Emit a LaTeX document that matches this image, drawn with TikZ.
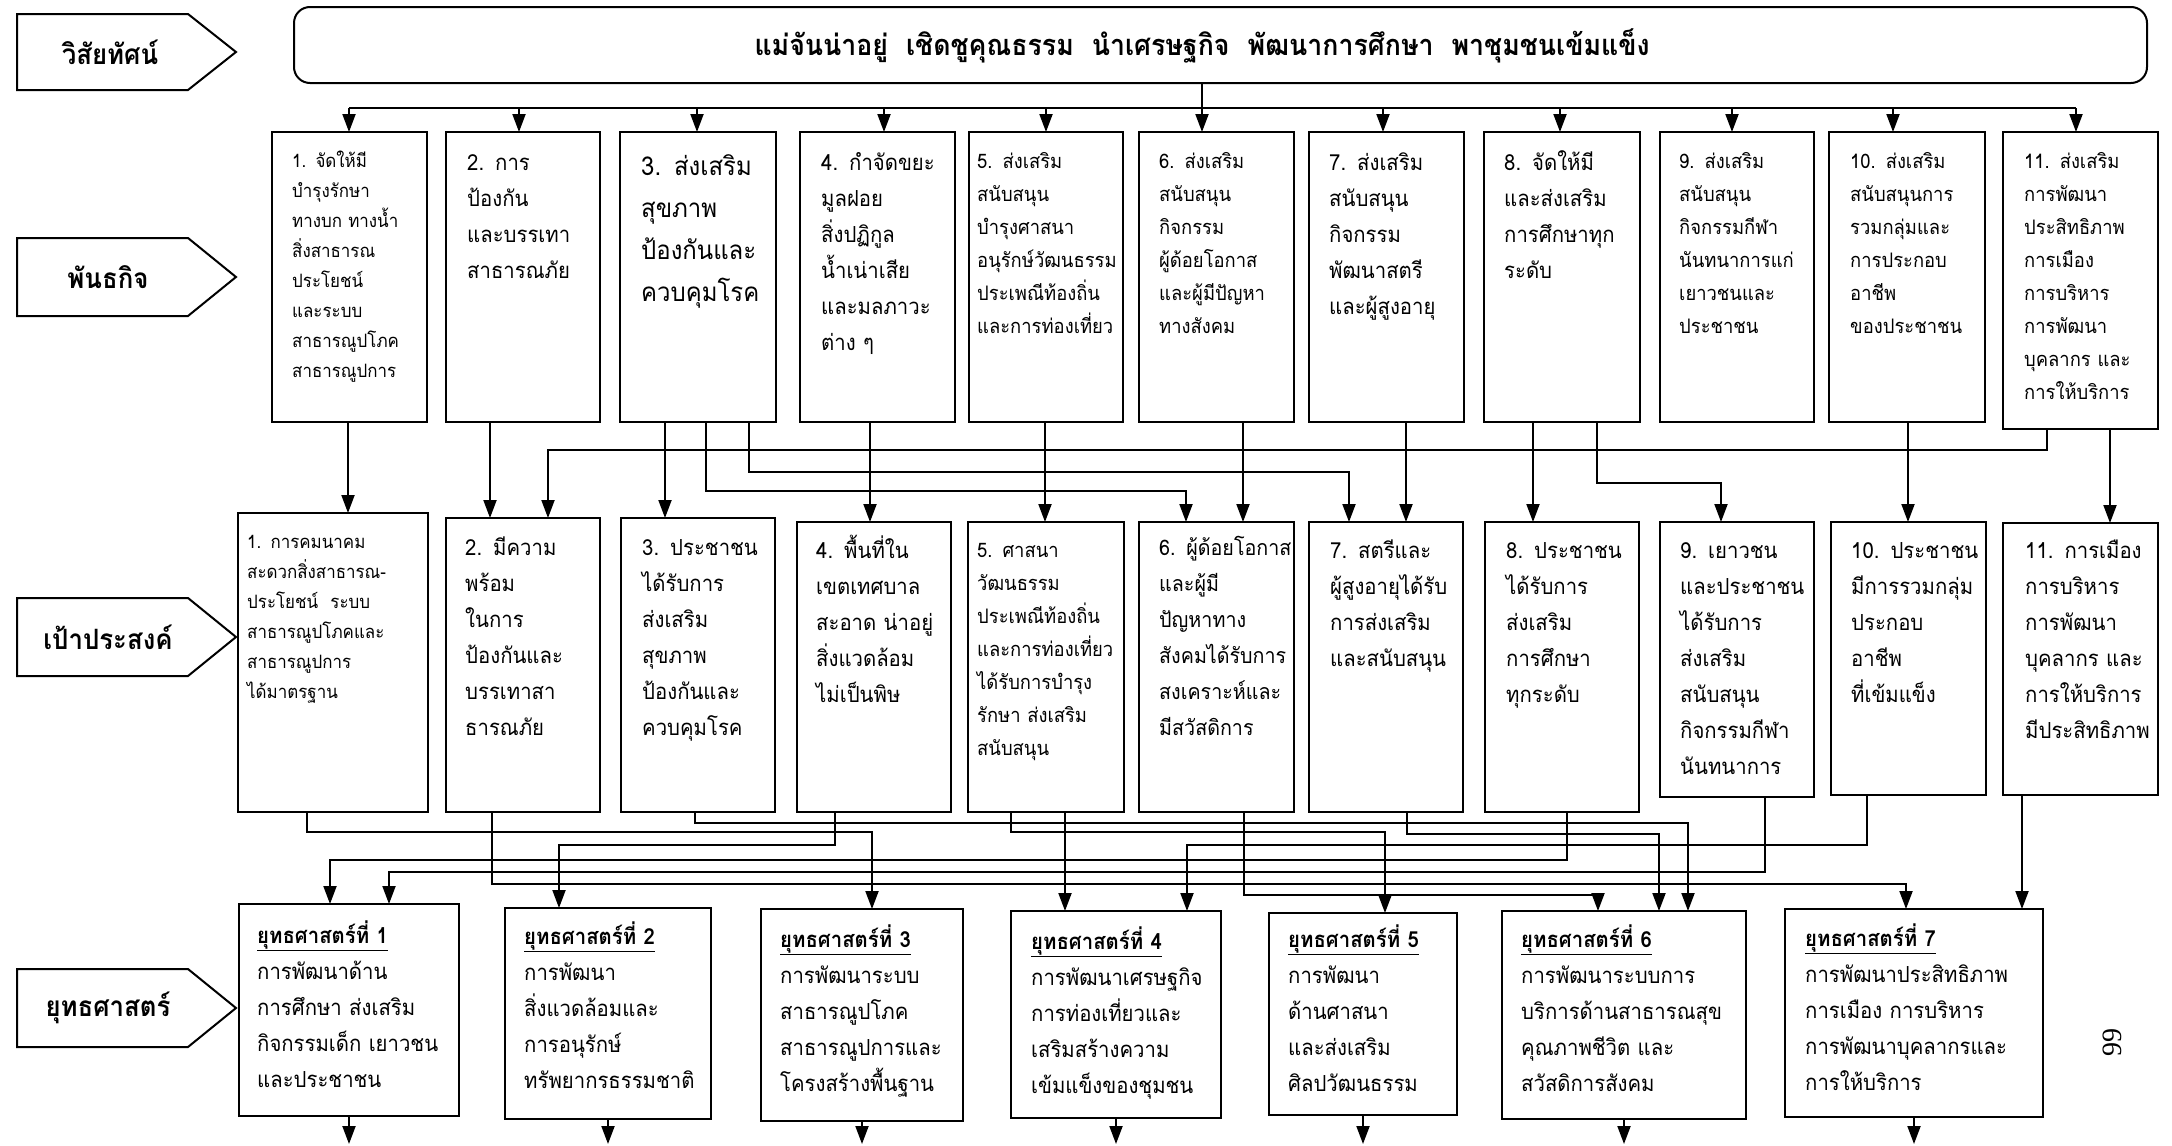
\documentclass[tikz,border=0pt]{standalone}
\usepackage{fontspec}
\setmainfont[Script=Thai,FakeStretch=0.92]{Loma}
\newfontfamily\pnfont{Liberation Serif}
\usetikzlibrary{arrows.meta}
\newcommand\ThS{\fontsize{18.4}{30}\selectfont}
\newcommand\ThA{\fontsize{20}{33}\selectfont}
\newcommand\ThB{\fontsize{22.1}{36}\selectfont}
\newcommand\ThBs{\fontsize{21.4}{36}\selectfont}
\newcommand\ThC{\fontsize{26}{42}\selectfont}
\newcommand\ThL{\fontsize{28}{30}\selectfont\bfseries}
\newcommand\ThV{\fontsize{29}{32}\selectfont\bfseries}
\newcommand\sttl[1]{\underline{\textbf{#1}}}
\tikzset{
  bx/.style={draw, line width=2.6pt, inner sep=0pt, outer sep=0pt, anchor=north west},
  tx/.style={anchor=base west, align=left, inner sep=0pt, text width=240pt},
  ln/.style={line width=2pt},
  arr/.style={line width=2pt, -{Triangle[length=18pt,width=13pt]}},
  lb/.style={draw, line width=2pt, line join=miter},
}
\begin{document}
\begin{tikzpicture}[x=1pt,y=-1pt]
\fill[white] (0,0) rectangle (2172,1146);
\useasboundingbox (0,0) rectangle (2172,1146);

% ---- left labels
\draw[lb] (17,14) -- (188,14) -- (236,52) -- (188,90) -- (17,90) -- cycle;
\node[font=\ThL] (l1) at (110,52) {วิสัยทัศน์};
\draw[lb] (17,238) -- (188,238) -- (236,277) -- (188,316) -- (17,316) -- cycle;
\node[font=\ThL] (l2) at (108,277) {พันธกิจ};
\draw[lb] (17,598) -- (188,598) -- (236,637) -- (188,676) -- (17,676) -- cycle;
\node[font=\ThL] (l3) at (108,637) {เป้าประสงค์};
\draw[lb] (17,969) -- (188,969) -- (236,1008) -- (188,1047) -- (17,1047) -- cycle;
\node[font=\ThL] (l4) at (108,1008) {ยุทธศาสตร์};

% ---- vision
\node[draw, line width=2pt, rounded corners=16pt, inner sep=0pt, outer sep=0pt, anchor=north west,
      minimum width=1853pt, minimum height=76pt] (vis) at (294,7) {};
\node[font=\ThV] (vist) at (1202,46) {แม่จันน่าอยู่~~เชิดชูคุณธรรม~~นำเศรษฐกิจ~~พัฒนาการศึกษา~~พาชุมชนเข้มแข็ง};

% ---- mission boxes
\node[bx, minimum width=155pt, minimum height=290pt] (m1) at (272,132) {};
\node[bx, minimum width=154pt, minimum height=290pt] (m2) at (446,132) {};
\node[bx, minimum width=156pt, minimum height=290pt] (m3) at (620,132) {};
\node[bx, minimum width=155pt, minimum height=290pt] (m4) at (800,132) {};
\node[bx, minimum width=154pt, minimum height=290pt] (m5) at (969,132) {};
\node[bx, minimum width=155pt, minimum height=290pt] (m6) at (1139,132) {};
\node[bx, minimum width=155pt, minimum height=290pt] (m7) at (1309,132) {};
\node[bx, minimum width=156pt, minimum height=290pt] (m8) at (1484,132) {};
\node[bx, minimum width=154pt, minimum height=290pt] (m9) at (1660,132) {};
\node[bx, minimum width=156pt, minimum height=290pt] (m10) at (1829,132) {};
\node[bx, minimum width=155pt, minimum height=297pt] (m11) at (2003,132) {};

\node[tx, font=\ThS] (m1t) at ([xshift=20pt,yshift=-35pt]m1.north west) {1. จัดให้มี\\บำรุงรักษา\\ทางบก ทางน้ำ\\สิ่งสาธารณ\\ประโยชน์\\และระบบ\\สาธารณูปโภค\\สาธารณูปการ};
\node[tx, font=\ThB] (m2t) at ([xshift=21pt,yshift=-38pt]m2.north west) {2. การ\\ป้องกัน\\และบรรเทา\\สาธารณภัย};
\node[tx, font=\ThC] (m3t) at ([xshift=21pt,yshift=-43pt]m3.north west) {3. ส่งเสริม\\สุขภาพ\\ป้องกันและ\\ควบคุมโรค};
\node[tx, font=\ThB] (m4t) at ([xshift=21pt,yshift=-38pt]m4.north west) {4. กำจัดขยะ\\มูลฝอย\\สิ่งปฏิกูล\\น้ำเน่าเสีย\\และมลภาวะ\\ต่าง ๆ};
\node[tx, font=\ThA] (m5t) at ([xshift=8pt,yshift=-36pt]m5.north west) {5. ส่งเสริม\\สนับสนุน\\บำรุงศาสนา\\อนุรักษ์วัฒนธรรม\\ประเพณีท้องถิ่น\\และการท่องเที่ยว};
\node[tx, font=\ThA] (m6t) at ([xshift=20pt,yshift=-36pt]m6.north west) {6. ส่งเสริม\\สนับสนุน\\กิจกรรม\\ผู้ด้อยโอกาส\\และผู้มีปัญหา\\ทางสังคม};
\node[tx, font=\ThB] (m7t) at ([xshift=20pt,yshift=-38pt]m7.north west) {7. ส่งเสริม\\สนับสนุน\\กิจกรรม\\พัฒนาสตรี\\และผู้สูงอายุ};
\node[tx, font=\ThB] (m8t) at ([xshift=20pt,yshift=-38pt]m8.north west) {8. จัดให้มี\\และส่งเสริม\\การศึกษาทุก\\ระดับ};
\node[tx, font=\ThA] (m9t) at ([xshift=19pt,yshift=-36pt]m9.north west) {9. ส่งเสริม\\สนับสนุน\\กิจกรรมกีฬา\\นันทนาการแก่\\เยาวชนและ\\ประชาชน};
\node[tx, font=\ThA] (m10t) at ([xshift=21pt,yshift=-36pt]m10.north west) {10. ส่งเสริม\\สนับสนุนการ\\รวมกลุ่มและ\\การประกอบ\\อาชีพ\\ของประชาชน};
\node[tx, font=\ThA] (m11t) at ([xshift=21pt,yshift=-36pt]m11.north west) {11. ส่งเสริม\\การพัฒนา\\ประสิทธิภาพ\\การเมือง\\การบริหาร\\การพัฒนา\\บุคลากร และ\\การให้บริการ};

% ---- goal boxes
\node[bx, minimum width=190pt, minimum height=299pt] (g1) at (238,513) {};
\node[bx, minimum width=154pt, minimum height=294pt] (g2) at (446,518) {};
\node[bx, minimum width=154pt, minimum height=294pt] (g3) at (621,518) {};
\node[bx, minimum width=154pt, minimum height=290pt] (g4) at (797,522) {};
\node[bx, minimum width=156pt, minimum height=290pt] (g5) at (968,522) {};
\node[bx, minimum width=155pt, minimum height=290pt] (g6) at (1139,522) {};
\node[bx, minimum width=154pt, minimum height=290pt] (g7) at (1309,522) {};
\node[bx, minimum width=154pt, minimum height=290pt] (g8) at (1485,522) {};
\node[bx, minimum width=154pt, minimum height=275pt] (g9) at (1660,522) {};
\node[bx, minimum width=155pt, minimum height=273pt] (g10) at (1831,522) {};
\node[bx, minimum width=155pt, minimum height=272pt] (g11) at (2003,523) {};

\node[tx, font=\ThS] (g1t) at ([xshift=9pt,yshift=-35pt]g1.north west) {1. การคมนาคม\\สะดวกสิ่งสาธารณ-\\ประโยชน์~~ระบบ\\สาธารณูปโภคและ\\สาธารณูปการ\\ได้มาตรฐาน};
\node[tx, font=\ThB] (g2t) at ([xshift=19pt,yshift=-37pt]g2.north west) {2. มีความ\\พร้อม\\ในการ\\ป้องกันและ\\บรรเทาสา\\ธารณภัย};
\node[tx, font=\ThB] (g3t) at ([xshift=21pt,yshift=-37pt]g3.north west) {3. ประชาชน\\ได้รับการ\\ส่งเสริม\\สุขภาพ\\ป้องกันและ\\ควบคุมโรค};
\node[tx, font=\ThB] (g4t) at ([xshift=19pt,yshift=-36pt]g4.north west) {4. พื้นที่ใน\\เขตเทศบาล\\สะอาด น่าอยู่\\สิ่งแวดล้อม\\ไม่เป็นพิษ};
\node[tx, font=\ThA] (g5t) at ([xshift=9pt,yshift=-35pt]g5.north west) {5. ศาสนา\\วัฒนธรรม\\ประเพณีท้องถิ่น\\และการท่องเที่ยว\\ได้รับการบำรุง\\รักษา ส่งเสริม\\สนับสนุน};
\node[tx, font=\ThBs] (g6t) at ([xshift=20pt,yshift=-33pt]g6.north west) {6. ผู้ด้อยโอกาส\\และผู้มี\\ปัญหาทาง\\สังคมได้รับการ\\สงเคราะห์และ\\มีสวัสดิการ};
\node[tx, font=\ThB] (g7t) at ([xshift=21pt,yshift=-36pt]g7.north west) {7. สตรีและ\\ผู้สูงอายุได้รับ\\การส่งเสริม\\และสนับสนุน};
\node[tx, font=\ThB] (g8t) at ([xshift=21pt,yshift=-36pt]g8.north west) {8. ประชาชน\\ได้รับการ\\ส่งเสริม\\การศึกษา\\ทุกระดับ};
\node[tx, font=\ThB] (g9t) at ([xshift=20pt,yshift=-36pt]g9.north west) {9. เยาวชน\\และประชาชน\\ได้รับการ\\ส่งเสริม\\สนับสนุน\\กิจกรรมกีฬา\\นันทนาการ};
\node[tx, font=\ThB] (g10t) at ([xshift=20pt,yshift=-36pt]g10.north west) {10. ประชาชน\\มีการรวมกลุ่ม\\ประกอบ\\อาชีพ\\ที่เข้มแข็ง};
\node[tx, font=\ThB] (g11t) at ([xshift=22pt,yshift=-35pt]g11.north west) {11. การเมือง\\การบริหาร\\การพัฒนา\\บุคลากร และ\\การให้บริการ\\มีประสิทธิภาพ};

% ---- strategy boxes
\node[bx, minimum width=220pt, minimum height=212pt] (s1) at (239,904) {};
\node[bx, minimum width=206pt, minimum height=211pt] (s2) at (505,908) {};
\node[bx, minimum width=202pt, minimum height=212pt] (s3) at (761,909) {};
\node[bx, minimum width=210pt, minimum height=207pt] (s4) at (1011,911) {};
\node[bx, minimum width=188pt, minimum height=202pt] (s5) at (1269,913) {};
\node[bx, minimum width=244pt, minimum height=208pt] (s6) at (1502,911) {};
\node[bx, minimum width=258pt, minimum height=208pt] (s7) at (1785,909) {};

\node[tx, font=\ThB] (s1t) at ([xshift=18pt,yshift=-39pt]s1.north west) {\sttl{ยุทธศาสตร์ที่ 1}\\การพัฒนาด้าน\\การศึกษา ส่งเสริม\\กิจกรรมเด็ก เยาวชน\\และประชาชน};
\node[tx, font=\ThB] (s2t) at ([xshift=19pt,yshift=-36pt]s2.north west) {\sttl{ยุทธศาสตร์ที่ 2}\\การพัฒนา\\สิ่งแวดล้อมและ\\การอนุรักษ์\\ทรัพยากรธรรมชาติ};
\node[tx, font=\ThB] (s3t) at ([xshift=19pt,yshift=-38pt]s3.north west) {\sttl{ยุทธศาสตร์ที่ 3}\\การพัฒนาระบบ\\สาธารณูปโภค\\สาธารณูปการและ\\โครงสร้างพื้นฐาน};
\node[tx, font=\ThB] (s4t) at ([xshift=20pt,yshift=-38pt]s4.north west) {\sttl{ยุทธศาสตร์ที่ 4}\\การพัฒนาเศรษฐกิจ\\การท่องเที่ยวและ\\เสริมสร้างความ\\เข้มแข็งของชุมชน};
\node[tx, font=\ThB] (s5t) at ([xshift=19pt,yshift=-34pt]s5.north west) {\sttl{ยุทธศาสตร์ที่ 5}\\การพัฒนา\\ด้านศาสนา\\และส่งเสริม\\ศิลปวัฒนธรรม};
\node[tx, font=\ThB] (s6t) at ([xshift=19pt,yshift=-36pt]s6.north west) {\sttl{ยุทธศาสตร์ที่ 6}\\การพัฒนาระบบการ\\บริการด้านสาธารณสุข\\คุณภาพชีวิต และ\\สวัสดิการสังคม};
\node[tx, font=\ThB] (s7t) at ([xshift=20pt,yshift=-37pt]s7.north west) {\sttl{ยุทธศาสตร์ที่ 7}\\การพัฒนาประสิทธิภาพ\\การเมือง การบริหาร\\การพัฒนาบุคลากรและ\\การให้บริการ};

% ---- page number
\node[rotate=90, font=\pnfont\fontsize{28}{28}\selectfont] (pg) at (2112,1042) {99};

% ---- vision to missions
\coordinate (busL) at (349,108);
\coordinate (busR) at (2076,108);
\draw[ln] (busL) -- (busR);
\draw[ln] ([xshift=908pt]vis.south west) -- ++(0,25);
\foreach \n/\o in {m1/77, m2/73, m3/77, m4/84, m5/77, m6/63, m7/74, m8/76, m9/72, m10/64, m11/73}
  \draw[arr] ([xshift=\o pt]\n.north west) ++(0,-24) -- ([xshift=\o pt]\n.north west);

% ---- missions to goals
\draw[arr] ([xshift=76pt]m1.south west) -- ([xshift=110pt]g1.north west);
\draw[arr] ([xshift=44pt]m2.south west) -- ([xshift=44pt]g2.north west);
\draw[arr] ([xshift=44pt]m11.south west) -- ++(0,21) -| ([xshift=102pt]g2.north west);
\draw[arr] ([xshift=45pt]m3.south west) -- ([xshift=44pt]g3.north west);
\draw[arr] ([xshift=86pt]m3.south west) -- ++(0,69) -| ([xshift=47pt]g6.north west);
\draw[arr] ([xshift=129pt]m3.south west) -- ++(0,50) -| ([xshift=40pt]g7.north west);
\draw[arr] ([xshift=70pt]m4.south west) -- ([xshift=73pt]g4.north west);
\draw[arr] ([xshift=76pt]m5.south west) -- ([xshift=77pt]g5.north west);
\draw[arr] ([xshift=104pt]m6.south west) -- ([xshift=104pt]g6.north west);
\draw[arr] ([xshift=97pt]m7.south west) -- ([xshift=97pt]g7.north west);
\draw[arr] ([xshift=49pt]m8.south west) -- ([xshift=48pt]g8.north west);
\draw[arr] ([xshift=113pt]m8.south west) -- ++(0,61) -| ([xshift=61pt]g9.north west);
\draw[arr] ([xshift=79pt]m10.south west) -- ([xshift=77pt]g10.north west);
\draw[arr] ([xshift=107pt]m11.south west) -- ([xshift=107pt]g11.north west);

% ---- goals to strategies
\draw[arr] ([xshift=69pt]g1.south west) -- ++(0,20) -| ([xshift=111pt]s3.north west);
\draw[arr] ([xshift=46pt]g2.south west) -- ++(0,72) -| ([xshift=121pt]s7.north west);
\draw[arr] ([xshift=74pt]g3.south west) -- ++(0,11) -| ([xshift=186pt]s6.north west);
\draw[arr] ([xshift=38pt]g4.south west) -- ++(0,33) -| ([xshift=54pt]s2.north west);
\draw[arr] ([xshift=43pt]g5.south west) -- ++(0,20) -| ([xshift=116pt]s5.north west);
\draw[arr] ([xshift=97pt]g5.south west) -- ([xshift=54pt]s4.north west);
\draw[arr] ([xshift=105pt]g6.south west) -- ++(0,83) -| ([xshift=96pt]s6.north west);
\draw[arr] ([xshift=98pt]g7.south west) -- ++(0,22) -| ([xshift=157pt]s6.north west);
\draw[arr] ([xshift=82pt]g8.south west) -- ++(0,48) -| ([xshift=91pt]s1.north west);
\draw[arr] ([xshift=105pt]g9.south west) -- ++(0,75) -| ([xshift=150pt]s1.north west);
\draw[arr] ([xshift=36pt]g10.south west) -- ++(0,50) -| ([xshift=176pt]s4.north west);
\draw[arr] ([xshift=19pt]g11.south west) -- ([xshift=237pt]s7.north west);

% ---- strategy outputs
\draw[arr] (s1.south) -- ++(0,28);
\draw[arr] (s2.south) -- ++(0,25);
\draw[arr] (s3.south) -- ++(0,23);
\draw[arr] (s4.south) -- ++(0,26);
\draw[arr] (s5.south) -- ++(0,29);
\draw[arr] (s6.south) -- ++(0,25);
\draw[arr] (s7.south) -- ++(0,27);
\end{tikzpicture}
\end{document}
